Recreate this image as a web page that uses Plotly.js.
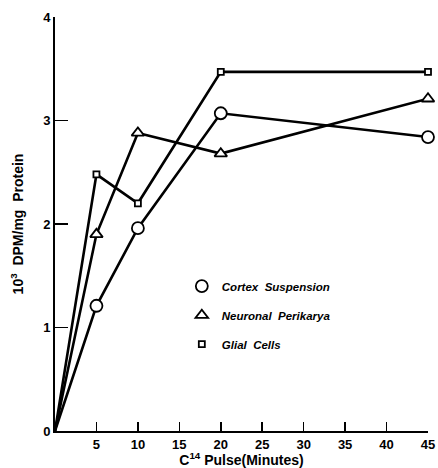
<!DOCTYPE html>
<html>
<head>
<meta charset="utf-8">
<script src="https://cdn.plot.ly/plotly-3.0.1.min.js"></script>
<style>html,body{margin:0;padding:0;background:#fff;}#chart{width:438px;height:468px;}</style>
</head>
<body>
<div id="chart"></div>
<script>
const pulseMinutes = [0, 5, 10, 20, 45];
const cortexSuspension = [0, 1.21, 1.96, 3.07, 2.84];
const neuronalPerikarya = [0, 1.90, 2.88, 2.68, 3.21];
const glialCells = [0, 2.48, 2.20, 3.47, 3.47];
const seriesNames = ["Cortex&nbsp; Suspension", "Neuronal&nbsp; Perikarya", "Glial&nbsp; Cells"];
const xTicks = [5, 10, 15, 20, 25, 30, 35, 40, 45];
const xTickLabels = ["5", "10", "15", "20", "25", "30", "35", "40", "45"];
const yTicks = [0, 1, 2, 3, 4];
const yTickLabels = ["0", "1", "2", "3", "4"];

const symbols = ["circle", "triangle-up", "square"];
const sizes = [12, 11, 6];
const values = [cortexSuspension, neuronalPerikarya, glialCells];

const traces = [];
values.forEach((v, i) => {
  traces.push({
    x: pulseMinutes, y: v, type: "scatter", mode: "lines",
    line: {color: "#000", width: 2.6}, showlegend: false, cliponaxis: false, hoverinfo: "skip"
  });
});
values.forEach((v, i) => {
  traces.push({
    x: pulseMinutes.slice(1), y: v.slice(1), type: "scatter", mode: "markers",
    name: seriesNames[i], legendgroup: "g" + i,
    marker: {symbol: symbols[i], size: sizes[i], color: "#fff", line: {width: 1.8, color: "#000"}},
    cliponaxis: false
  });
});

const layout = {
  width: 438, height: 468,
  margin: {l: 55, r: 10, t: 17, b: 37},
  paper_bgcolor: "#fff", plot_bgcolor: "#fff",
  font: {family: "Liberation Sans, Arial, sans-serif", color: "#000"},
  showlegend: true,
  legend: {
    x: 0.34, y: 0.385, xanchor: "left", yanchor: "top",
    font: {size: 11.5, style: "italic", weight: "bold", family: "Liberation Sans, Arial, sans-serif"},
    tracegroupgap: 10, itemwidth: 30, bgcolor: "rgba(0,0,0,0)"
  },
  xaxis: {
    range: [0, 45], tickvals: xTicks, ticktext: xTickLabels,
    ticks: "inside", ticklen: 9, tickwidth: 1.5, tickcolor: "#000",
    showline: true, linecolor: "#000", linewidth: 2, showgrid: false, zeroline: false,
    tickfont: {size: 13, weight: "bold"},
    title: {text: "C<sup>14</sup> Pulse(Minutes)", font: {size: 14, weight: "bold"}, standoff: 2}
  },
  yaxis: {
    range: [0, 4], tickvals: yTicks, ticktext: yTickLabels,
    ticks: "inside", ticklen: 13, tickwidth: 1.5, tickcolor: "#000",
    showline: true, linecolor: "#000", linewidth: 2, showgrid: false, zeroline: false,
    tickfont: {size: 13, weight: "bold"},
    title: {text: "10<sup>3</sup>&nbsp; DPM/mg&nbsp; Protein", font: {size: 14, weight: "bold"}, standoff: 16}
  }
};

Plotly.newPlot("chart", traces, layout, {staticPlot: true, displayModeBar: false});
</script>
</body>
</html>
